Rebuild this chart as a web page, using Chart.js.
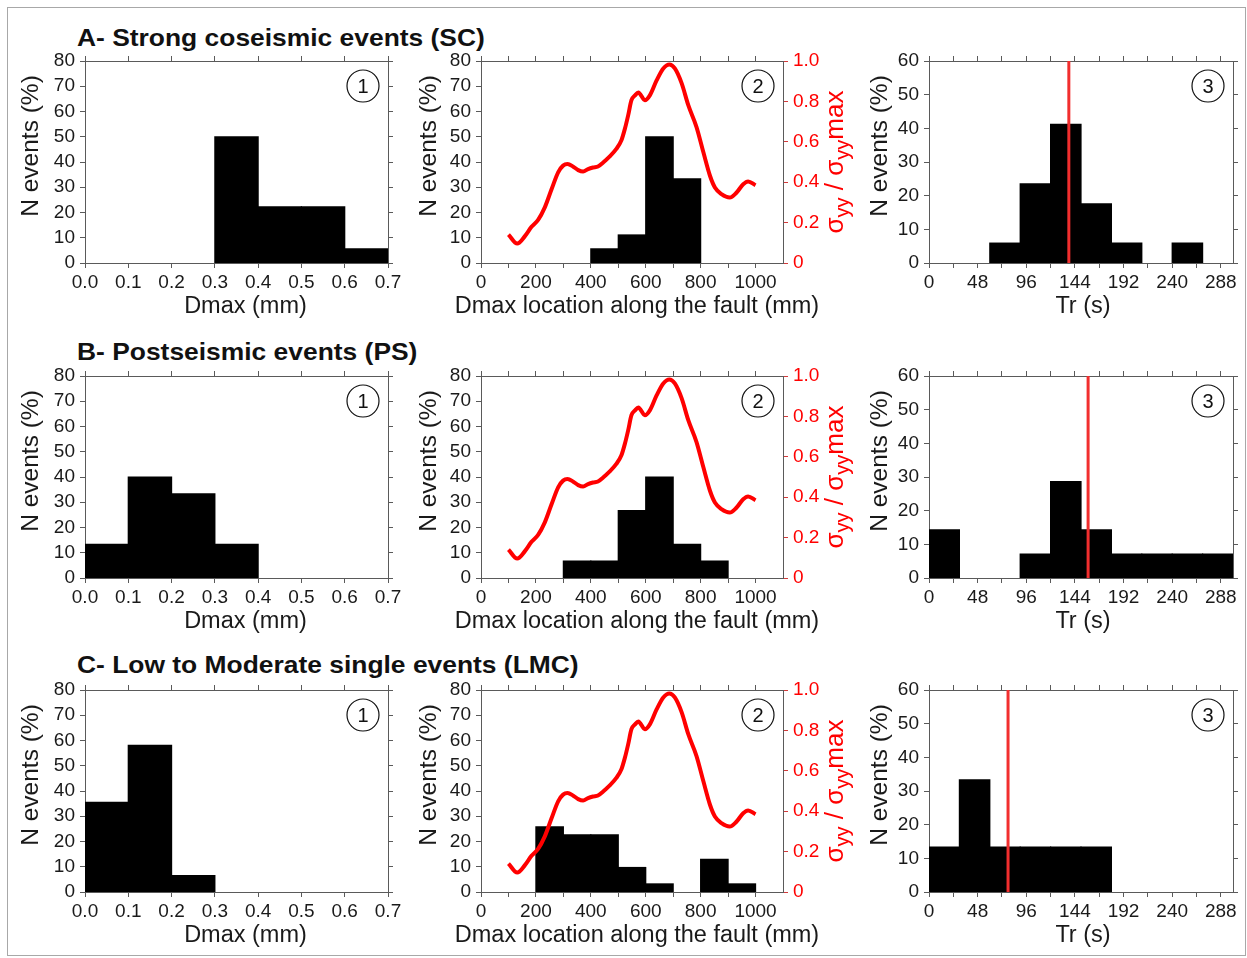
<!DOCTYPE html>
<html><head><meta charset="utf-8">
<script src="https://cdn.jsdelivr.net/npm/chart.js@4.4.1/dist/chart.umd.min.js"></script>
<style>
html,body{margin:0;padding:0;background:#fff;overflow:hidden;width:1247px;height:958px;}
#frame{position:absolute;left:7px;top:7px;width:1237px;height:947px;border:1px solid #a8a8a8;}
canvas{position:absolute;}
.ttl{position:absolute;left:77px;font:bold 24px 'Liberation Sans',Arial,sans-serif;line-height:24px;color:#111;transform:scaleX(1.1);transform-origin:0 0;white-space:nowrap;}
</style></head><body>
<div id="frame"></div>
<div class="ttl" style="top:26px">A- Strong coseismic events (SC)</div>
<div class="ttl" style="top:340px">B- Postseismic events (PS)</div>
<div class="ttl" style="top:653px">C- Low to Moderate single events (LMC)</div>
<script>
// ---------------- DATA ----------------
// Column 1: Dmax histograms (bin starts, mm)
const dmaxBinStart = [0.0,0.1,0.2,0.3,0.4,0.5,0.6];
const dmaxBinWidth = 0.1;
const dmaxTicks = [0.0,0.1,0.2,0.3,0.4,0.5,0.6,0.7];
const dmaxTickLabels = ['0.0','0.1','0.2','0.3','0.4','0.5','0.6','0.7'];
const scDmax  = [0, 0, 0, 50, 22.2, 22.2, 5.6];
const psDmax  = [13.3, 40, 33.3, 13.3, 0, 0, 0];
const lmcDmax = [35.5, 58.1, 6.5, 0, 0, 0, 0];

// Column 2: Dmax location histograms (bin starts, mm)
const locBinStart = [0,100,200,300,400,500,600,700,800,900,1000];
const locBinWidth = 100;
const locTicks = [0,100,200,300,400,500,600,700,800,900,1000];
const locTickLabels = ['0','','200','','400','','600','','800','','1000'];
const scLoc  = [0, 0, 0, 0, 5.6, 11.1, 50, 33.3, 0, 0, 0];
const psLoc  = [0, 0, 0, 6.7, 6.7, 26.7, 40, 13.3, 6.7, 0, 0];
const lmcLoc = [0, 0, 25.8, 22.6, 22.6, 9.7, 3.2, 0, 12.9, 3.2, 0];

// Normalised stress profile sigma_yy / sigma_yy max along the fault
const stressX = [100,132,160,184,208,232,257,281,299,315,336,354,372,390,408,426,445,469,493,511,524,536,548,561,573,597,615,640,664,686,706,731,755,785,810,834,852,876,906,931,955,973,1000];
const stressY = [0.141,0.096,0.133,0.179,0.213,0.274,0.365,0.449,0.482,0.49,0.477,0.46,0.453,0.465,0.473,0.478,0.498,0.528,0.565,0.606,0.664,0.731,0.806,0.83,0.844,0.806,0.83,0.905,0.963,0.983,0.963,0.889,0.781,0.673,0.548,0.432,0.374,0.341,0.324,0.349,0.39,0.404,0.385];
const sigmaTicks = [0,0.2,0.4,0.6,0.8,1.0];
const sigmaTickLabels = ['0','0.2','0.4','0.6','0.8','1.0'];

// Column 3: Tr histograms (bin starts, s)
const trBinStart = [0,30,60,90,120,150,180,210,240,270];
const trBinWidth = 30;
const trTicks = [0,24,48,72,96,120,144,168,192,216,240,264,288];
const trTickLabels = ['0','','48','','96','','144','','192','','240','','288'];
const scTr  = [0, 0, 5.9, 23.5, 41.2, 17.6, 5.9, 0, 5.9, 0];
const psTr  = [14.3, 0, 0, 7.1, 28.6, 14.3, 7.1, 7.1, 7.1, 7.1];
const lmcTr = [13.3, 33.3, 13.3, 13.3, 13.3, 13.3, 0, 0, 0, 0];
const meanTr = [138, 157, 78];

// Y axes
const count80Ticks = [0,10,20,30,40,50,60,70,80];
const count60Ticks = [0,10,20,30,40,50,60];
const yTitle = 'N events (%)';
const xTitles = ['Dmax (mm)', 'Dmax location along the fault (mm)', 'Tr (s)'];

// ---------------- LAYOUT / STYLE ----------------
const FONT = "'Liberation Sans', Arial, Helvetica, sans-serif";
const TXT = '#1a1a1a', AX = '#5a5a5a', RED = '#ff0000', RED2 = '#f22e2e';
const rowTop = [61, 376, 690], plotH = 202;
const colLeft = [85, 481, 929], colW = [303, 302, 304];
const L = 75, T = 20, B = 60;

const deco = {
  id: 'deco',
  afterDraw(chart, args, o) {
    const {ctx, chartArea: a} = chart;
    ctx.save();
    // circled panel number
    const cx = a.right - 25, cy = a.top + 25;
    ctx.beginPath(); ctx.arc(cx, cy, 16, 0, Math.PI * 2);
    ctx.lineWidth = 1.2; ctx.strokeStyle = '#111'; ctx.stroke();
    ctx.fillStyle = '#111'; ctx.font = '20px ' + FONT;
    ctx.textAlign = 'center'; ctx.textBaseline = 'middle';
    ctx.fillText(o.num, cx, cy + 1);
    // x axis title
    ctx.fillStyle = TXT; ctx.textBaseline = 'alphabetic'; ctx.textAlign = 'center';
    ctx.font = '23.5px ' + FONT;
    ctx.fillText(o.xTitle, (a.left + a.right) / 2 + o.xShift, a.bottom + 49.5);
    // y axis title
    ctx.save();
    ctx.translate(a.left - o.yOff, (a.top + a.bottom) / 2 - 16);
    ctx.rotate(-Math.PI / 2);
    ctx.font = '24.5px ' + FONT;
    ctx.fillText(yTitle, 0, 0);
    ctx.restore();
    if (o.sigma) {
      ctx.translate(a.right + 60, (a.top + a.bottom) / 2);
      ctx.rotate(-Math.PI / 2);
      ctx.fillStyle = RED; ctx.textAlign = 'left'; ctx.textBaseline = 'alphabetic';
      const segs = [['σ',26,0],['yy',20,6],[' / ',26,0],['σ',26,0],['yy',20,6],['max',26,0]];
      let total = 0;
      segs.forEach(s => { ctx.font = s[1] + 'px ' + FONT; total += ctx.measureText(s[0]).width; });
      let x = -total / 2;
      segs.forEach(s => { ctx.font = s[1] + 'px ' + FONT; ctx.fillText(s[0], x, s[2]); x += ctx.measureText(s[0]).width; });
    }
    ctx.restore();
  }
};

function fixTicks(vals) { return s => { s.ticks = vals.map(v => ({value: v})); }; }
function gridOpts() { return {display: true, drawOnChartArea: false, drawTicks: true, tickLength: 5, tickColor: AX, tickWidth: 1, offset: false}; }
function borderOpts() { return {display: true, color: AX, width: 1}; }

function makePanel(r, c) {
  const cfgCol = [
    {xMin: 0, xMax: 0.7, ticks: dmaxTicks, labels: dmaxTickLabels, bins: dmaxBinStart, bw: dmaxBinWidth, vals: [scDmax, psDmax, lmcDmax][r], yMax: 80, yTicks: count80Ticks, R: 20, xShift: 9, yOff: 47},
    {xMin: 0, xMax: 1100, ticks: locTicks, labels: locTickLabels, bins: locBinStart, bw: locBinWidth, vals: [scLoc, psLoc, lmcLoc][r], yMax: 80, yTicks: count80Ticks, R: 85, xShift: 5, yOff: 45},
    {xMin: 0, xMax: 300, ticks: trTicks, labels: trTickLabels, bins: trBinStart, bw: trBinWidth, vals: [scTr, psTr, lmcTr][r], yMax: 60, yTicks: count60Ticks, R: 14, xShift: 2, yOff: 42}
  ][c];
  const w = colW[c], R = cfgCol.R;
  const cv = document.createElement('canvas');
  cv.width = L + w + R; cv.height = T + plotH + B;
  cv.style.left = (colLeft[c] - L) + 'px'; cv.style.top = (rowTop[r] - T) + 'px';
  cv.style.width = cv.width + 'px'; cv.style.height = cv.height + 'px';
  document.body.appendChild(cv);

  const edges = cfgCol.bins.concat([cfgCol.bins[cfgCol.bins.length - 1] + cfgCol.bw]);
  const datasets = [{
    type: 'bar', label: 'N events', order: 1, grouped: false,
    data: cfgCol.bins.map((s, i) => ({x: s + cfgCol.bw / 2, y: cfgCol.vals[i] === 0 ? null : cfgCol.vals[i]})),
    xAxisID: 'xb', yAxisID: 'y',
    backgroundColor: '#000', borderWidth: 0, barPercentage: 1, categoryPercentage: 1, inflateAmount: 0.6
  }];
  if (c === 1) {
    datasets.push({
      type: 'line', label: 'stress', order: 0,
      data: stressX.map((x, i) => ({x: x, y: stressY[i]})),
      xAxisID: 'x', yAxisID: 'yr', borderColor: RED, borderWidth: 4, pointRadius: 0,
      cubicInterpolationMode: 'monotone', fill: false
    });
  }
  if (c === 2) {
    datasets.push({
      type: 'line', label: 'mean Tr', order: 0,
      data: [{x: meanTr[r], y: 0}, {x: meanTr[r], y: cfgCol.yMax}],
      xAxisID: 'x', yAxisID: 'y', borderColor: RED2, borderWidth: 3, pointRadius: 0, fill: false
    });
  }
  const tickFont = {family: FONT, size: 19};
  const scales = {
    x: {
      type: 'linear', position: 'bottom', min: cfgCol.xMin, max: cfgCol.xMax, offset: false,
      afterBuildTicks: fixTicks(cfgCol.ticks), afterFit: s => { s.height = B; },
      ticks: {autoSkip: false, maxRotation: 0, minRotation: 0, padding: 3, color: TXT, font: tickFont,
        callback: (v, i) => cfgCol.labels[i]},
      grid: gridOpts(), border: borderOpts(), title: {display: false}
    },
    xt: {
      type: 'linear', position: 'top', min: cfgCol.xMin, max: cfgCol.xMax, offset: false,
      afterBuildTicks: fixTicks(cfgCol.ticks), afterFit: s => { s.height = T; },
      ticks: {display: false}, grid: gridOpts(), border: borderOpts()
    },
    xb: {
      type: 'linear', display: false, min: cfgCol.xMin, max: cfgCol.xMax, offset: false,
      grid: {offset: false}, ticks: {stepSize: cfgCol.bw, autoSkip: false},
      afterBuildTicks: fixTicks(edges)
    },
    y: {
      type: 'linear', position: 'left', min: 0, max: cfgCol.yMax,
      afterBuildTicks: fixTicks(cfgCol.yTicks), afterFit: s => { s.width = L; },
      ticks: {autoSkip: false, padding: 5, color: TXT, font: tickFont, callback: v => String(v)},
      grid: gridOpts(), border: borderOpts(), title: {display: false}
    }
  };
  if (c === 1) {
    scales.yr = {
      type: 'linear', position: 'right', min: 0, max: 1,
      afterBuildTicks: fixTicks(sigmaTicks), afterFit: s => { s.width = R; },
      ticks: {autoSkip: false, padding: 5, color: RED, font: tickFont, callback: (v, i) => sigmaTickLabels[i]},
      grid: Object.assign(gridOpts(), {tickColor: '#d23a3a'}), border: borderOpts()
    };
  } else {
    scales.yr = {
      type: 'linear', position: 'right', min: 0, max: cfgCol.yMax,
      afterBuildTicks: fixTicks(cfgCol.yTicks), afterFit: s => { s.width = R; },
      ticks: {display: false}, grid: gridOpts(), border: borderOpts()
    };
  }
  new Chart(cv, {
    type: 'bar',
    data: {datasets},
    options: {
      responsive: false, animation: false, devicePixelRatio: 1,
      layout: {padding: 0},
      plugins: {legend: {display: false}, tooltip: {enabled: false},
        deco: {num: String(c + 1), sigma: c === 1, xTitle: xTitles[c], xShift: cfgCol.xShift, yOff: cfgCol.yOff}},
      scales
    },
    plugins: [deco]
  });
}

for (let r = 0; r < 3; r++) for (let c = 0; c < 3; c++) makePanel(r, c);
</script>
</body></html>
